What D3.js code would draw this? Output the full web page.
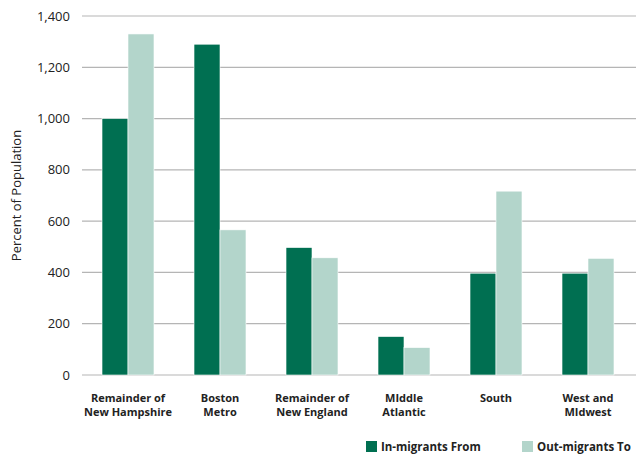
<!DOCTYPE html>
<html>
<head>
<meta charset="utf-8">
<script src="https://cdn.jsdelivr.net/npm/d3@7"></script>
<style>
  body { margin: 0; background: #fff; }
  svg { font-family: "Open Sans", "Noto Sans", sans-serif; }
</style>
</head>
<body>
<div id="chartDiv"></div>
<script>
var width = 636;
var height = 457;

// data
var categories = [
  ["Remainder of", "New Hampshire"],
  ["Boston", "Metro"],
  ["Remainder of", "New England"],
  ["MIddle", "Atlantic"],
  ["South"],
  ["West and", "MIdwest"]
];
var inMigrants = [1000, 1290, 497, 150, 397, 397];
var outMigrants = [1330, 566, 457, 107, 717, 455];
var seriesNames = ["In-migrants From", "Out-migrants To"];
var yTicks = [0, 200, 400, 600, 800, 1000, 1200, 1400];

var colors = ["#006f51", "#b3d5cb"];
var margin = {top: 16, right: 2, bottom: 82, left: 82};

var svg = d3.select("#chartDiv")
    .append("svg")
    .attr("width", width)
    .attr("height", height);

var x = d3.scaleBand()
    .domain(d3.range(categories.length))
    .range([margin.left, width - margin.right])
    .paddingInner(0.435)
    .paddingOuter(0.2175);

var x1 = d3.scaleBand()
    .domain([0, 1])
    .range([0, x.bandwidth()]);

var y = d3.scaleLinear()
    .domain([0, 1400])
    .range([height - margin.bottom, margin.top]);

// gridlines
svg.append("g")
    .selectAll("line")
    .data(yTicks)
    .join("line")
        .attr("x1", margin.left)
        .attr("x2", width)
        .attr("y1", d => y(d))
        .attr("y2", d => y(d))
        .attr("stroke", "#b5b5b5")
        .attr("stroke-width", 1.2);

// tick labels
svg.append("g")
    .selectAll("text")
    .data(yTicks)
    .join("text")
        .attr("x", 70)
        .attr("y", d => y(d))
        .attr("dy", "0.35em")
        .attr("text-anchor", "end")
        .style("font-size", "13px")
        .attr("fill", "#222")
        .text(d => d3.format(",")(d));

// y title
svg.append("text")
    .attr("transform", `translate(21,${(y(0) + y(1400)) / 2}) rotate(-90)`)
    .attr("text-anchor", "middle")
    .style("font-size", "13px")
    .attr("fill", "#222")
    .text("Percent of Population");

// bars
var series = [inMigrants, outMigrants];
var groups = svg.append("g")
    .selectAll("g")
    .data(categories)
    .join("g")
        .attr("transform", (d, i) => `translate(${x(i)},0)`);

groups.selectAll("rect")
    .data((d, i) => series.map((s, k) => ({k, v: s[i]})))
    .join("rect")
        .attr("x", d => x1(d.k))
        .attr("width", x1.bandwidth())
        .attr("y", d => y(d.v))
        .attr("height", d => y(0) - y(d.v))
        .attr("fill", d => colors[d.k])
        .attr("stroke", "#fff")
        .attr("stroke-width", 0.6);

// category labels
groups.append("text")
    .attr("text-anchor", "middle")
    .style("font-size", "11px")
    .style("font-weight", "bold")
    .attr("fill", "#222")
  .selectAll("tspan")
  .data(d => d)
  .join("tspan")
    .attr("x", x.bandwidth() / 2)
    .attr("y", (d, i) => 402 + i * 14)
    .text(d => d);

// legend
var legendX = [366, 522];
var legend = svg.append("g")
    .selectAll("g")
    .data(seriesNames)
    .join("g")
        .attr("transform", (d, i) => `translate(${legendX[i]},441)`);

legend.append("rect")
    .attr("width", 11)
    .attr("height", 11)
    .attr("fill", (d, i) => colors[i]);

legend.append("text")
    .attr("x", 15)
    .attr("y", 5.5)
    .attr("dy", "0.35em")
    .style("font-size", "11.5px")
    .style("font-weight", "bold")
    .attr("fill", "#222")
    .text(d => d);
</script>
</body>
</html>
